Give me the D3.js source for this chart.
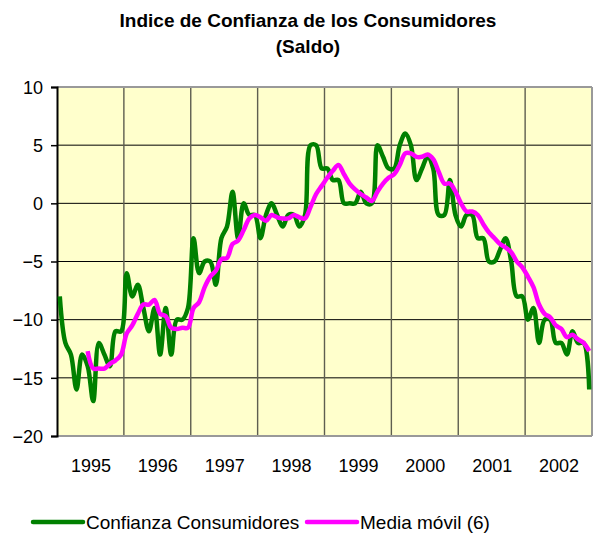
<!DOCTYPE html>
<html><head><meta charset="utf-8">
<script src="https://cdn.jsdelivr.net/npm/d3@7"></script>
<style>
html,body{margin:0;padding:0;background:#fff;}
svg{display:block;font-family:"Liberation Sans",Arial,sans-serif;}
</style></head>
<body><svg id="c" width="593" height="539"></svg>
<script>
const years = ["1995","1996","1997","1998","1999","2000","2001","2002"];
const yTicks = [10,5,0,-5,-10,-15,-20];
const confianza = [
 -8,-12,-13,-16,-13,-14,-17,-12,-13,-14,-11,-11,
 -6,-8,-7,-9,-11,-9,-13,-9,-13,-10,-10,-9,
 -3,-6,-5,-5,-7,-3,-2,1,-3,0,-1,-1,
 -3,-1,0,-1,-2,-1,-1,-2,-1,5,5,3,
 3,2,2,0,0,0,1,0,0,5,4,3,
 3,5,6,5,2,3,4,3,-1,-1,2,-1,
 -2,-1,-1,-3,-3,-5,-5,-4,-3,-5,-8,-8,
 -10,-9,-12,-10,-10,-12,-12,-13,-11,-12,-12,-16
];
const mediaMovil = [
 null,null,null,null,null,-12.7,-14.2,-14.2,-14.2,-13.8,-13.5,-13.0,
 -11.2,-10.5,-9.5,-8.7,-8.7,-8.3,-9.5,-9.7,-10.7,-10.8,-10.7,-10.7,
 -9.0,-8.5,-7.2,-6.3,-5.8,-4.8,-4.7,-3.5,-3.2,-2.3,-1.3,-1.0,
 -1.2,-1.5,-1.0,-1.2,-1.3,-1.3,-1.0,-1.2,-1.3,-0.3,0.8,1.5,
 2.2,2.8,3.3,2.5,1.7,1.2,0.8,0.5,0.2,1.0,1.7,2.2,
 2.5,3.3,4.3,4.3,4.0,4.0,4.2,3.8,2.7,1.7,1.7,1.0,
 0.0,-0.7,-0.7,-1.0,-1.8,-2.5,-3.0,-3.5,-3.8,-4.2,-5.0,-5.5,
 -6.3,-7.2,-8.7,-9.5,-9.8,-10.5,-10.8,-11.5,-11.3,-11.7,-12.0,-12.7
];
const seriesNames = ["Confianza Consumidores","Media móvil (6)"];
const colors = ["#008000","#FF00FF"];

const svg = d3.select("#c");
const L=57, R=592, T=87, B=436;
const n = confianza.length;
const x = d3.scaleLinear().domain([0,n]).range([L,R]);
const y = d3.scaleLinear().domain([-20,10]).range([B,T]);

svg.append("text").attr("x",308).attr("y",27).attr("text-anchor","middle")
  .attr("font-weight","bold").attr("font-size",19).text("Indice de Confianza de los Consumidores");
svg.append("text").attr("x",308).attr("y",53).attr("text-anchor","middle")
  .attr("font-weight","bold").attr("font-size",19).text("(Saldo)");

svg.append("rect").attr("x",L).attr("y",T).attr("width",R-L).attr("height",B-T).attr("fill","#FFFFCC");

// horizontal grid
svg.append("g").selectAll("line").data(yTicks.filter(v=>v>-20&&v<10)).join("line")
  .attr("x1",L).attr("x2",R).attr("y1",d=>y(d)).attr("y2",d=>y(d))
  .attr("stroke","#000").attr("stroke-width",1);
// vertical grid
svg.append("g").selectAll("line").data(d3.range(1,years.length)).join("line")
  .attr("x1",d=>x(d*12)).attr("x2",d=>x(d*12)).attr("y1",T).attr("y2",B)
  .attr("stroke","#5e5e50").attr("stroke-width",1.4);

// border
svg.append("line").attr("x1",L).attr("x2",R).attr("y1",T).attr("y2",T).attr("stroke","#999").attr("stroke-width",2);
svg.append("line").attr("x1",R).attr("x2",R).attr("y1",T).attr("y2",B).attr("stroke","#999").attr("stroke-width",2);
svg.append("line").attr("x1",L).attr("x2",R).attr("y1",B).attr("y2",B).attr("stroke","#999").attr("stroke-width",2);

// y axis
const yAxis = d3.axisLeft(y).tickValues(yTicks).tickSize(6).tickPadding(8);
const gy = svg.append("g").attr("transform",`translate(${L},0)`).call(yAxis);
gy.select(".domain").attr("stroke","#000").attr("stroke-width",2);
gy.selectAll(".tick line").attr("stroke","#000").attr("stroke-width",1.5);
gy.selectAll("text").attr("font-size",18).attr("fill","#000").attr("font-family","Liberation Sans, Arial, sans-serif").attr("dy","0.35em");

// x labels
const xAxis = d3.axisBottom(x).tickValues(years.map((d,i)=>i*12+6)).tickFormat((d,i)=>years[i]).tickSize(0).tickPadding(23);
const gx = svg.append("g").attr("transform",`translate(0,${B})`).call(xAxis);
gx.select(".domain").remove();
gx.selectAll("text").attr("font-size",18).attr("fill","#000").attr("font-family","Liberation Sans, Arial, sans-serif");

// lines
const line = d3.line().defined(d=>d!=null).x((d,i)=>x(i+0.5)).y(d=>y(d)).curve(d3.curveCatmullRom.alpha(0.5));
const g = svg.append("g");
g.append("path").datum(confianza).attr("d",line).attr("fill","none").attr("stroke",colors[0]).attr("stroke-width",4.5).attr("stroke-linejoin","round");
g.append("path").datum(mediaMovil).attr("d",line).attr("fill","none").attr("stroke",colors[1]).attr("stroke-width",4.5).attr("stroke-linejoin","round");

// legend
const lg = svg.append("g");
const legX = [33,307];
seriesNames.forEach((s,i)=>{
  lg.append("line").attr("x1",legX[i]).attr("x2",legX[i]+50).attr("y1",522).attr("y2",522)
    .attr("stroke",colors[i]).attr("stroke-width",4.5).attr("stroke-linecap","round");
  lg.append("text").attr("x",legX[i]+53).attr("y",529).attr("font-size",19).text(s);
});
</script></body></html>
